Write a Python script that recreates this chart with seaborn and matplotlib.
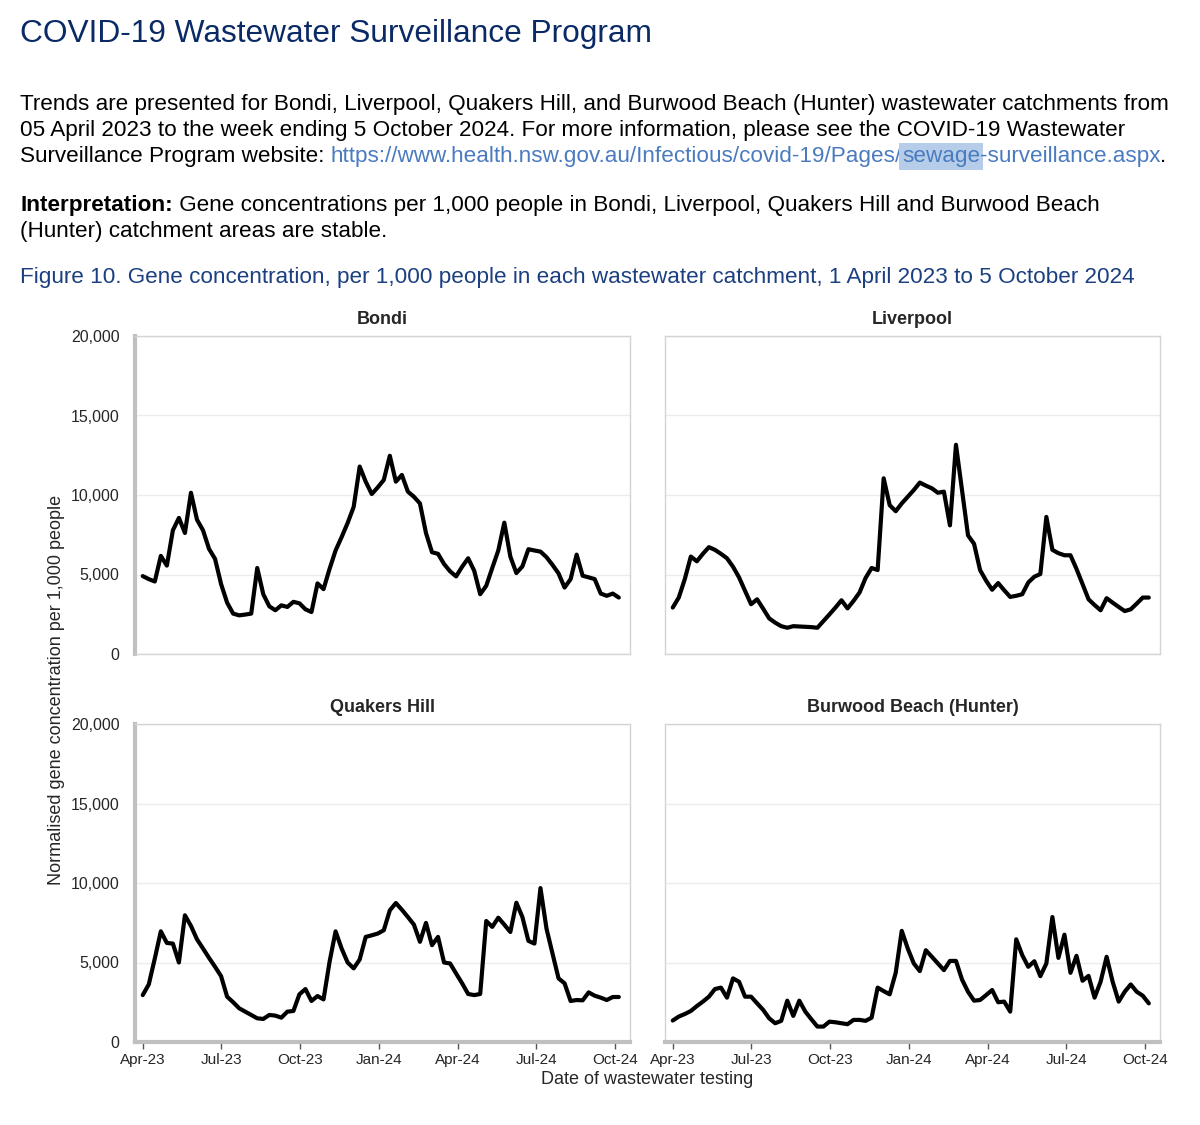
import pandas as pd
import matplotlib
matplotlib.use("Agg")
import matplotlib.pyplot as plt
import matplotlib.dates as mdates
from matplotlib.ticker import FuncFormatter, MultipleLocator
import seaborn as sns

# weekly normalised gene concentration per 1,000 people
start_date = "2023-04-01"
sites = ["Bondi", "Liverpool", "Quakers Hill", "Burwood Beach (Hunter)"]

bondi = [4900, 4710, 4560, 6170, 5560, 7780, 8560, 7610, 10140, 8450,
         7780, 6610, 5980, 4400, 3230, 2540, 2430, 2480, 2540, 5410,
         3760, 3000, 2750, 3060, 2960, 3280, 3190, 2810, 2640, 4440,
         4080, 5350, 6510, 7350, 8240, 9250, 11790, 10840, 10060, 10480,
         10950, 12470, 10840, 11260, 10210, 9890, 9470, 7610, 6400, 6300,
         5660, 5200, 4880, 5490, 6020, 5240, 3760, 4290, 5410, 6510,
         8260, 6130, 5090, 5510, 6590, 6510, 6440, 6090, 5600, 5070,
         4180, 4710, 6250, 4920, 4820, 4710, 3800, 3660, 3800, 3550]

liverpool = [2920, 3550, 4710, 6130, 5830, 6300, 6720, 6550, 6300, 6020,
             5490, 4820, 3970, 3130, 3440, 2850, 2240, 1970, 1750, 1650,
             1750, 1730, 1710, 1690, 1650, 2070, 2490, 2920, 3380, 2870,
             3340, 3870, 4780, 5410, 5280, 11050, 9360, 8980, 9470, 9890,
             10310, 10780, 10590, 10420, 10140, 10210, 8090, 13160, 10310, 7460,
             6930, 5280, 4610, 4040, 4460, 4010, 3590, 3660, 3760, 4500,
             4860, 5030, 8620, 6550, 6340, 6210, 6210, 5350, 4400, 3440,
             3080, 2750, 3510, 3230, 2960, 2700, 2810, 3170, 3550, 3550]

quakers_hill = [2950, 3620, 5250, 6960, 6230, 6190, 5000, 7970, 7300, 6460,
                5880, 5290, 4730, 4140, 2850, 2500, 2120, 1910, 1700, 1490,
                1450, 1700, 1660, 1530, 1910, 1950, 3000, 3330, 2580, 2890,
                2680, 5040, 6960, 5880, 5000, 4630, 5190, 6610, 6710, 6820,
                7030, 8280, 8740, 8320, 7860, 7380, 6300, 7490, 6090, 6610,
                5000, 4940, 4310, 3690, 3020, 2950, 3020, 7610, 7240, 7820,
                7380, 6920, 8760, 7860, 6360, 6190, 9680, 7130, 5560, 4000,
                3690, 2580, 2640, 2620, 3120, 2910, 2790, 2640, 2830, 2830]

burwood_beach = [1350, 1600, 1760, 1950, 2260, 2540, 2850, 3330, 3420, 2790,
                 4000, 3790, 2850, 2850, 2430, 2020, 1490, 1180, 1330, 2600,
                 1640, 2600, 1910, 1430, 970, 970, 1280, 1240, 1180, 1120,
                 1390, 1390, 1330, 1530, 3420, 3200, 3000, 4350, 6990, 5880,
                 4940, 4460, 5770, 5360, 4940, 4520, 5100, 5100, 3930, 3160,
                 2600, 2640, 2950, 3270, 2500, 2540, 1910, 6460, 5460, 4730,
                 5080, 4140, 4940, 7860, 5290, 6750, 4350, 5420, 3850, 4160,
                 2790, 3790, 5360, 3790, 2540, 3160, 3620, 3160, 2910, 2430]

series = [bondi, liverpool, quakers_hill, burwood_beach]

frames = []
for site, vals in zip(sites, series):
    dates = pd.date_range(start_date, periods=len(vals), freq="7D")
    frames.append(pd.DataFrame({"site": site, "date": dates, "value": vals}))
df = pd.concat(frames, ignore_index=True)

sns.set_style("white")
plt.rcParams['font.family'] = ['Liberation Sans', 'DejaVu Sans']

W, H = 1200, 1125
fig = plt.figure(figsize=(W / 100, H / 100), dpi=100)
renderer = fig.canvas.get_renderer()

NAVY = "#0a2a66"
LINK = "#4a7bbf"


def put_segments(x_px, y_px, parts, size):
    """Write text pieces one after another on a single baseline."""
    x = x_px
    for txt, color, weight, bg in parts:
        t = fig.text(x / W, 1 - y_px / H, txt, fontsize=size, color=color,
                     fontweight=weight, ha="left", va="baseline")
        if bg:
            t.set_bbox(dict(boxstyle="square,pad=0.12", facecolor=bg, edgecolor="none"))
        x += t.get_window_extent(renderer).width


# header text
fig.text(20 / W, 1 - 42 / H, "COVID-19 Wastewater Surveillance Program",
         fontsize=22.8, color=NAVY, ha="left", va="baseline")

body = 16.2
put_segments(20, 110, [("Trends are presented for Bondi, Liverpool, Quakers Hill, and Burwood Beach (Hunter) wastewater catchments from",
                        "black", "normal", None)], body)
put_segments(20, 136, [("05 April 2023 to the week ending 5 October 2024. For more information, please see the COVID-19 Wastewater",
                        "black", "normal", None)], body)
put_segments(20, 162, [("Surveillance Program website: ", "black", "normal", None),
                       ("https://www.health.nsw.gov.au/Infectious/covid-19/Pages/", LINK, "normal", None),
                       ("sewage", LINK, "normal", "#b5cde8"),
                       ("-surveillance.aspx", LINK, "normal", None),
                       (".", "black", "normal", None)], body)
put_segments(20, 211, [("Interpretation:", "black", "bold", None),
                       (" Gene concentrations per 1,000 people in Bondi, Liverpool, Quakers Hill and Burwood Beach",
                        "black", "normal", None)], body)
put_segments(20, 237, [("(Hunter) catchment areas are stable.", "black", "normal", None)], body)
put_segments(20, 283, [("Figure 10. Gene concentration, per 1,000 people in each wastewater catchment, 1 April 2023 to 5 October 2024",
                        "#1b3f80", "normal", None)], body)

# panel grid
lefts = [135, 665]
tops = [336, 724]
pw, ph = 495, 318

for i, site in enumerate(sites):
    row, col = divmod(i, 2)
    l, t = lefts[col], tops[row]
    ax = fig.add_axes([l / W, 1 - (t + ph) / H, pw / W, ph / H])
    sns.lineplot(data=df[df["site"] == site], x="date", y="value",
                 color="black", linewidth=3.0, ax=ax)
    ax.set_xlim(pd.Timestamp("2023-03-23"), pd.Timestamp("2024-10-18"))
    ax.set_ylim(0, 20000)
    ax.yaxis.set_major_locator(MultipleLocator(5000))
    ax.yaxis.set_major_formatter(FuncFormatter(lambda v, p: f"{int(v):,}"))
    ax.xaxis.set_major_locator(mdates.MonthLocator(bymonth=[1, 4, 7, 10]))
    ax.xaxis.set_major_formatter(mdates.DateFormatter("%b-%y"))
    ax.grid(axis="y", color="#ececec", linewidth=1)
    ax.grid(axis="x", visible=False)
    ax.set_axisbelow(True)
    ax.set_xlabel("")
    ax.set_ylabel("")
    ax.set_title(site, fontsize=13, fontweight="bold", pad=9)

    for side in ["top", "right", "left", "bottom"]:
        ax.spines[side].set_color("#d4d4d4")
        ax.spines[side].set_linewidth(1.0)
    if col == 0:
        ax.spines["left"].set_color("#c0c0c0")
        ax.spines["left"].set_linewidth(3)
    if row == 1:
        ax.spines["bottom"].set_color("#c0c0c0")
        ax.spines["bottom"].set_linewidth(3)

    ax.tick_params(axis="y", length=0, pad=11, labelsize=11.5, labelleft=(col == 0))
    if row == 1:
        ax.tick_params(axis="x", direction="out", length=5, width=1, color="#555555",
                       pad=3, labelsize=11, bottom=True)
    else:
        ax.tick_params(axis="x", length=0, labelbottom=False)

fig.text(57 / W, 1 - 690 / H, "Normalised gene concentration per 1,000 people",
         rotation=90, fontsize=13, ha="center", va="center")
fig.text(647 / W, 1 - 1080 / H, "Date of wastewater testing",
         fontsize=13, ha="center", va="center")

fig.savefig("out.png", dpi=100, facecolor="white")
plt.close(fig)
